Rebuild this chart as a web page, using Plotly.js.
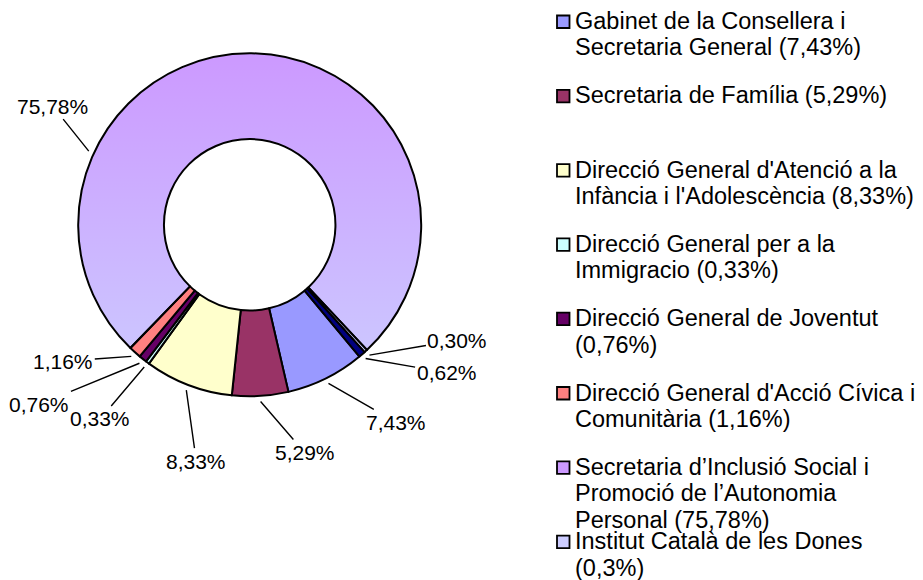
<!DOCTYPE html>
<html>
<head>
<meta charset="utf-8">
<script src="https://cdn.plot.ly/plotly-3.0.1.min.js"></script>
<style>html,body{margin:0;padding:0;background:#fff;}#chart{width:923px;height:580px;}</style>
</head>
<body>
<div id="chart"></div>
<script>
// ---- data ----
const sliceNames = [
  "Gabinet de la Consellera i Secretaria General",
  "Secretaria de Família",
  "Direcció General d'Atenció a la Infància i l'Adolescència",
  "Direcció General per a la Immigracio",
  "Direcció General de Joventut",
  "Direcció General d'Acció Cívica i Comunitària",
  "Secretaria d’Inclusió Social i Promoció de l’Autonomia Personal",
  "Institut Català de les Dones",
  "Altres"
];
const sliceValues = [7.43, 5.29, 8.33, 0.33, 0.76, 1.16, 75.78, 0.30, 0.62];
const legendLabels = [
  "Gabinet de la Consellera i<br>Secretaria General (7,43%)",
  "Secretaria de Família (5,29%)",
  "Direcció General d'Atenció a la<br>Infància i l'Adolescència (8,33%)",
  "Direcció General per a la<br>Immigracio (0,33%)",
  "Direcció General de Joventut<br>(0,76%)",
  "Direcció General d'Acció Cívica i<br>Comunitària (1,16%)",
  "Secretaria d’Inclusió Social i<br>Promoció de l’Autonomia<br>Personal (75,78%)",
  "Institut Català de les Dones<br>(0,3%)"
];

// ---- style ----
const colors = ["#9999FF", "#993366", "#FFFFCC", "#CCFFFF", "#660066", "#FF8080", "#CC99FF", "#CCCCFF", "#000080"];
const gradientSlice = 6;
const W = 923, H = 580;
const cx = 249.7, cy = 224.8, R = 171.5;
const rotation = 140.2;
const labelFont = {family: "Liberation Sans, Arial, sans-serif", size: 21, color: "#000"};
const legendFont = {family: "Liberation Sans, Arial, sans-serif", size: 23.5, color: "#000"};
// text offsets (px) of each value label from its leader-line tip
const labelOffsets = [[68,39],[44,51],[10,71],[-44,52],[-100,41],[-68,5],[-36,-45],[88,-15],[81,14]];
const labelAngleOverride = {6: 294.6};

const px = x => x / W;
const py = y => 1 - y / H;

const fills = colors.map((c, i) => i === gradientSlice ? "rgba(0,0,0,0)" : c);

const pie = {
  type: "pie",
  values: sliceValues,
  labels: sliceNames,
  sort: false,
  direction: "clockwise",
  rotation: rotation,
  hole: 0.5,
  textinfo: "none",
  showlegend: false,
  hovertemplate: "%{label}: %{value}%<extra></extra>",
  marker: {colors: fills, line: {color: "#000", width: 2}},
  domain: {x: [px(cx - R), px(cx + R)], y: [py(cy + R), py(cy - R)]}
};

// value labels with leader lines, anchored at slice mid-angles
const total = sliceValues.reduce((a, b) => a + b, 0);
let acc = 0;
const annotations = [];
sliceValues.forEach((v, i) => {
  const start = rotation + acc / total * 360;
  acc += v;
  let mid = start + v / total * 180;
  if (labelAngleOverride[i] !== undefined) mid = labelAngleOverride[i];
  const a = mid * Math.PI / 180;
  const rt = R + 5.5;
  const tx = cx + rt * Math.sin(a), ty = cy - rt * Math.cos(a);
  annotations.push({
    xref: "paper", yref: "paper", x: px(tx), y: py(ty),
    text: v.toFixed(2).replace(".", ",") + "%",
    showarrow: true, arrowhead: 0, arrowwidth: 1.4, arrowcolor: "#000",
    ax: labelOffsets[i][0], ay: labelOffsets[i][1],
    font: labelFont, standoff: 0
  });
});

// legend (Excel-style fixed slots, one annotation per text line)
const legTop = 21, legSlot = 74.3, lineH = 26.4;
const shapes = [];
legendLabels.forEach((t, i) => {
  const yc = legTop + i * legSlot;
  t.split("<br>").forEach((line, k) => {
    annotations.push({
      xref: "paper", yref: "paper", x: px(573), y: py(yc + k * lineH),
      xanchor: "left", yanchor: "middle", align: "left",
      text: line, showarrow: false, font: legendFont
    });
  });
  shapes.push({
    type: "rect", xref: "paper", yref: "paper",
    x0: px(557), x1: px(569.5), y0: py(yc + 7), y1: py(yc - 5.5),
    fillcolor: colors[i], line: {color: "#000", width: 1.8}
  });
});

const svg = "<svg xmlns='http://www.w3.org/2000/svg' width='343' height='343' viewBox='0 0 343 343'>" +
  "<defs><linearGradient id='g' x1='0' y1='0' x2='0' y2='1'><stop offset='0' stop-color='#CC99FF'/><stop offset='1' stop-color='#CCCCFF'/></linearGradient></defs>" +
  "<circle cx='171.5' cy='171.5' r='171' fill='url(#g)'/><circle cx='171.5' cy='171.5' r='85.75' fill='#ffffff'/></svg>";

const layout = {
  width: W, height: H,
  margin: {l: 0, r: 0, t: 0, b: 0},
  paper_bgcolor: "#fff", plot_bgcolor: "#fff",
  showlegend: false,
  annotations: annotations,
  shapes: shapes,
  images: [{
    source: "data:image/svg+xml;charset=utf-8," + encodeURIComponent(svg),
    xref: "paper", yref: "paper", x: px(cx - R), y: py(cy - R),
    sizex: 2 * R / W, sizey: 2 * R / H, xanchor: "left", yanchor: "top",
    sizing: "stretch", layer: "below"
  }]
};

Plotly.newPlot("chart", [pie], layout, {displayModeBar: false, staticPlot: true});
</script>
</body>
</html>
